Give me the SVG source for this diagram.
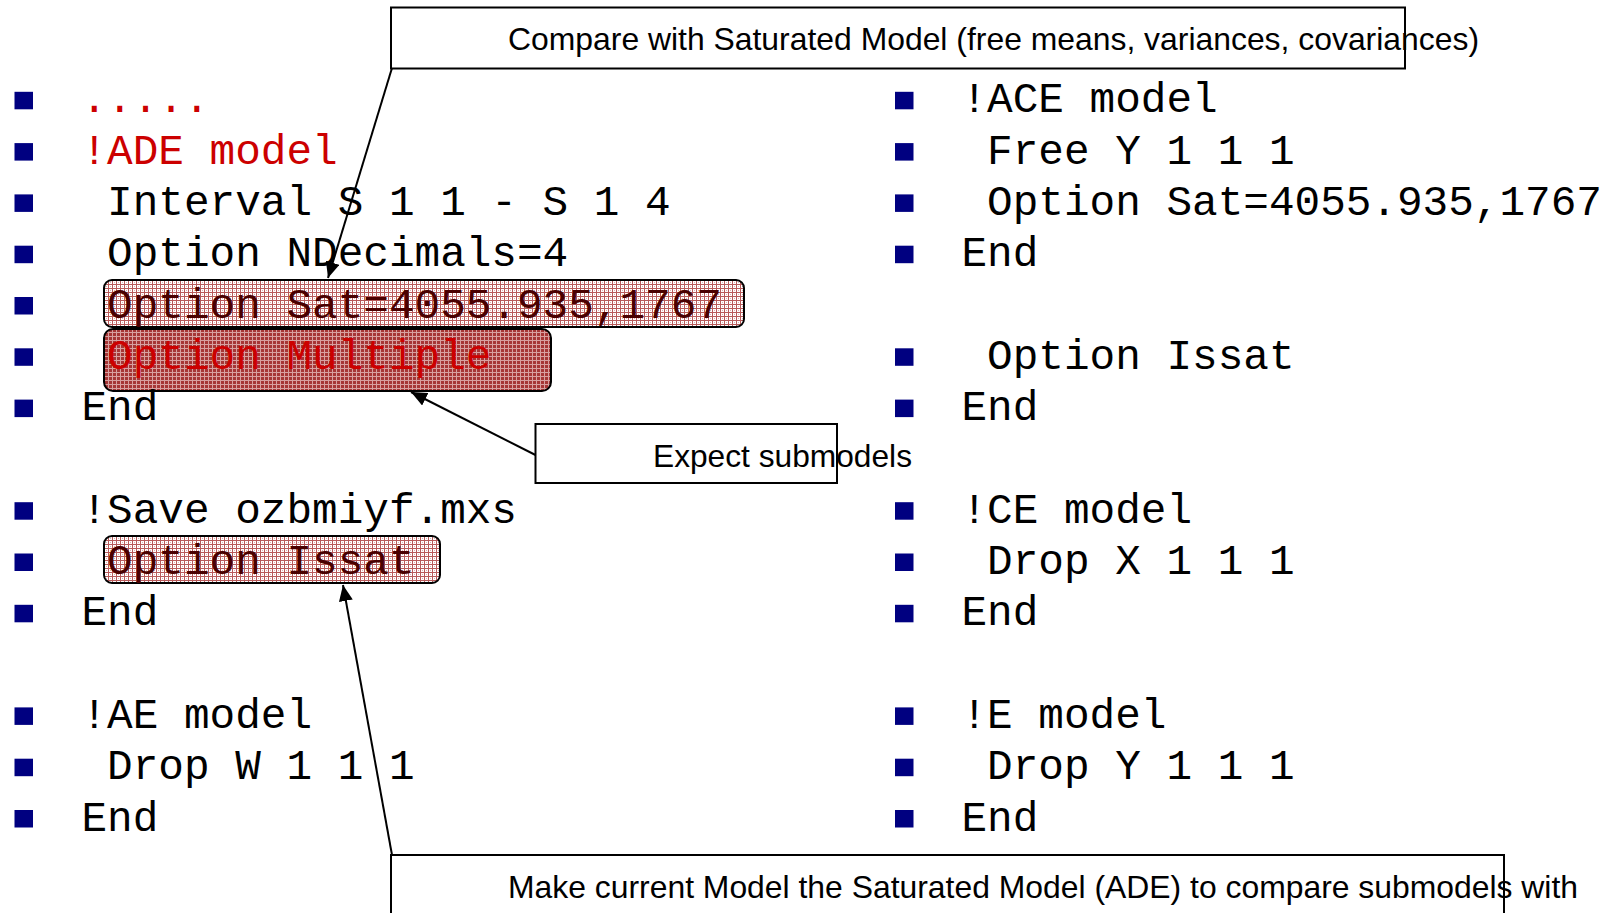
<svg xmlns="http://www.w3.org/2000/svg" width="1610" height="913" viewBox="0 0 1610 913">
<defs>
<pattern id="pLight" width="4" height="4" patternUnits="userSpaceOnUse">
<rect width="4" height="4" fill="#ffffff"/>
<rect width="4" height="1" fill="#b85a5a"/>
<rect width="1" height="4" fill="#b85a5a"/>
<rect x="2" y="2" width="1" height="1" fill="#e0b0b0"/>
</pattern>
<pattern id="pDark" width="4" height="4" patternUnits="userSpaceOnUse">
<rect width="4" height="4" fill="#a63636"/>
<rect width="4" height="1" fill="#d8a0a0"/>
<rect width="1" height="4" fill="#d8a0a0"/>
</pattern>
<marker id="arr" viewBox="0 0 16 14" refX="16" refY="7" markerWidth="16" markerHeight="14" markerUnits="userSpaceOnUse" orient="auto">
<path d="M0,0 L16,7 L0,14 z" fill="#000"/>
</marker>
</defs>
<style>
.code{font-family:"Liberation Mono","DejaVu Sans Mono",monospace;font-size:42.7px;fill:#000;white-space:pre}
.red{fill:#cc0000}
.dark{fill:#4a0000}
.b{fill:#000080}
.hl{stroke:#000;stroke-width:2}
.call{fill:#fff;stroke:#000;stroke-width:2}
.lbl{font-family:"Liberation Sans",Arial,sans-serif;font-size:32px;fill:#000}
.con{stroke:#000;stroke-width:2;fill:none}
</style>
<rect width="1610" height="913" fill="#fff"/>

<g id="left-column">
<rect class="b" x="14.5" y="91.8" width="18.5" height="17.5"/>
<rect class="b" x="14.5" y="143.1" width="18.5" height="17.5"/>
<rect class="b" x="14.5" y="194.4" width="18.5" height="17.5"/>
<rect class="b" x="14.5" y="245.7" width="18.5" height="17.5"/>
<rect class="b" x="14.5" y="297" width="18.5" height="17.5"/>
<rect class="b" x="14.5" y="348.3" width="18.5" height="17.5"/>
<rect class="b" x="14.5" y="399.6" width="18.5" height="17.5"/>
<rect class="b" x="14.5" y="502.2" width="18.5" height="17.5"/>
<rect class="b" x="14.5" y="553.5" width="18.5" height="17.5"/>
<rect class="b" x="14.5" y="604.8" width="18.5" height="17.5"/>
<rect class="b" x="14.5" y="707.4" width="18.5" height="17.5"/>
<rect class="b" x="14.5" y="758.7" width="18.5" height="17.5"/>
<rect class="b" x="14.5" y="810" width="18.5" height="17.5"/>
</g>

<g id="hl-sat">
<rect class="hl" x="104" y="280" width="640" height="47" rx="8" fill="url(#pLight)"/>
</g>
<g id="hl-multiple">
<rect class="hl" x="104" y="329" width="447" height="62" rx="9" fill="url(#pDark)"/>
</g>
<g id="hl-issat">
<rect class="hl" x="104" y="536" width="336" height="47" rx="8" fill="url(#pLight)"/>
</g>

<g id="left-text">
<text class="code red" x="81.5" y="112.3">.....</text>
<text class="code red" x="81.5" y="163.6">!ADE model</text>
<text class="code" x="81.5" y="214.9"> Interval S 1 1 - S 1 4</text>
<text class="code" x="81.5" y="266.2"> Option NDecimals=4</text>
<text class="code dark" x="81.5" y="317.5"> Option Sat=4055.935,1767</text>
<text class="code red" x="81.5" y="368.8"> Option Multiple</text>
<text class="code" x="81.5" y="420.1">End</text>
<text class="code" x="81.5" y="522.7">!Save ozbmiyf.mxs</text>
<text class="code dark" x="81.5" y="574"> Option Issat</text>
<text class="code" x="81.5" y="625.3">End</text>
<text class="code" x="81.5" y="727.9">!AE model</text>
<text class="code" x="81.5" y="779.2"> Drop W 1 1 1</text>
<text class="code" x="81.5" y="830.5">End</text>
</g>

<g id="right-column">
<rect class="b" x="895" y="91.8" width="18.5" height="17.5"/>
<rect class="b" x="895" y="143.1" width="18.5" height="17.5"/>
<rect class="b" x="895" y="194.4" width="18.5" height="17.5"/>
<rect class="b" x="895" y="245.7" width="18.5" height="17.5"/>
<rect class="b" x="895" y="348.3" width="18.5" height="17.5"/>
<rect class="b" x="895" y="399.6" width="18.5" height="17.5"/>
<rect class="b" x="895" y="502.2" width="18.5" height="17.5"/>
<rect class="b" x="895" y="553.5" width="18.5" height="17.5"/>
<rect class="b" x="895" y="604.8" width="18.5" height="17.5"/>
<rect class="b" x="895" y="707.4" width="18.5" height="17.5"/>
<rect class="b" x="895" y="758.7" width="18.5" height="17.5"/>
<rect class="b" x="895" y="810" width="18.5" height="17.5"/>
<text class="code" x="961.5" y="112.3">!ACE model</text>
<text class="code" x="961.5" y="163.6"> Free Y 1 1 1</text>
<text class="code" x="961.5" y="214.9"> Option Sat=4055.935,1767</text>
<text class="code" x="961.5" y="266.2">End</text>
<text class="code" x="961.5" y="368.8"> Option Issat</text>
<text class="code" x="961.5" y="420.1">End</text>
<text class="code" x="961.5" y="522.7">!CE model</text>
<text class="code" x="961.5" y="574"> Drop X 1 1 1</text>
<text class="code" x="961.5" y="625.3">End</text>
<text class="code" x="961.5" y="727.9">!E model</text>
<text class="code" x="961.5" y="779.2"> Drop Y 1 1 1</text>
<text class="code" x="961.5" y="830.5">End</text>
</g>

<g id="connectors">
<line class="con" x1="392" y1="68" x2="328" y2="278" marker-end="url(#arr)"/>
<line class="con" x1="535.5" y1="455" x2="411" y2="392" marker-end="url(#arr)"/>
<line class="con" x1="392" y1="855" x2="343" y2="585" marker-end="url(#arr)"/>
</g>

<g id="callout-compare">
<rect class="call" x="391" y="7.5" width="1014" height="61"/>
<text class="lbl" x="508" y="50" textLength="971" lengthAdjust="spacingAndGlyphs">Compare with Saturated Model (free means, variances, covariances)</text>
</g>
<g id="callout-expect">
<rect class="call" x="535.5" y="424" width="301.5" height="59"/>
<text class="lbl" x="653" y="467" textLength="259" lengthAdjust="spacingAndGlyphs">Expect submodels</text>
</g>
<g id="callout-make">
<rect class="call" x="391" y="855" width="1113" height="80"/>
<text class="lbl" x="508" y="898" textLength="1070" lengthAdjust="spacingAndGlyphs">Make current Model the Saturated Model (ADE) to compare submodels with</text>
</g>
</svg>
